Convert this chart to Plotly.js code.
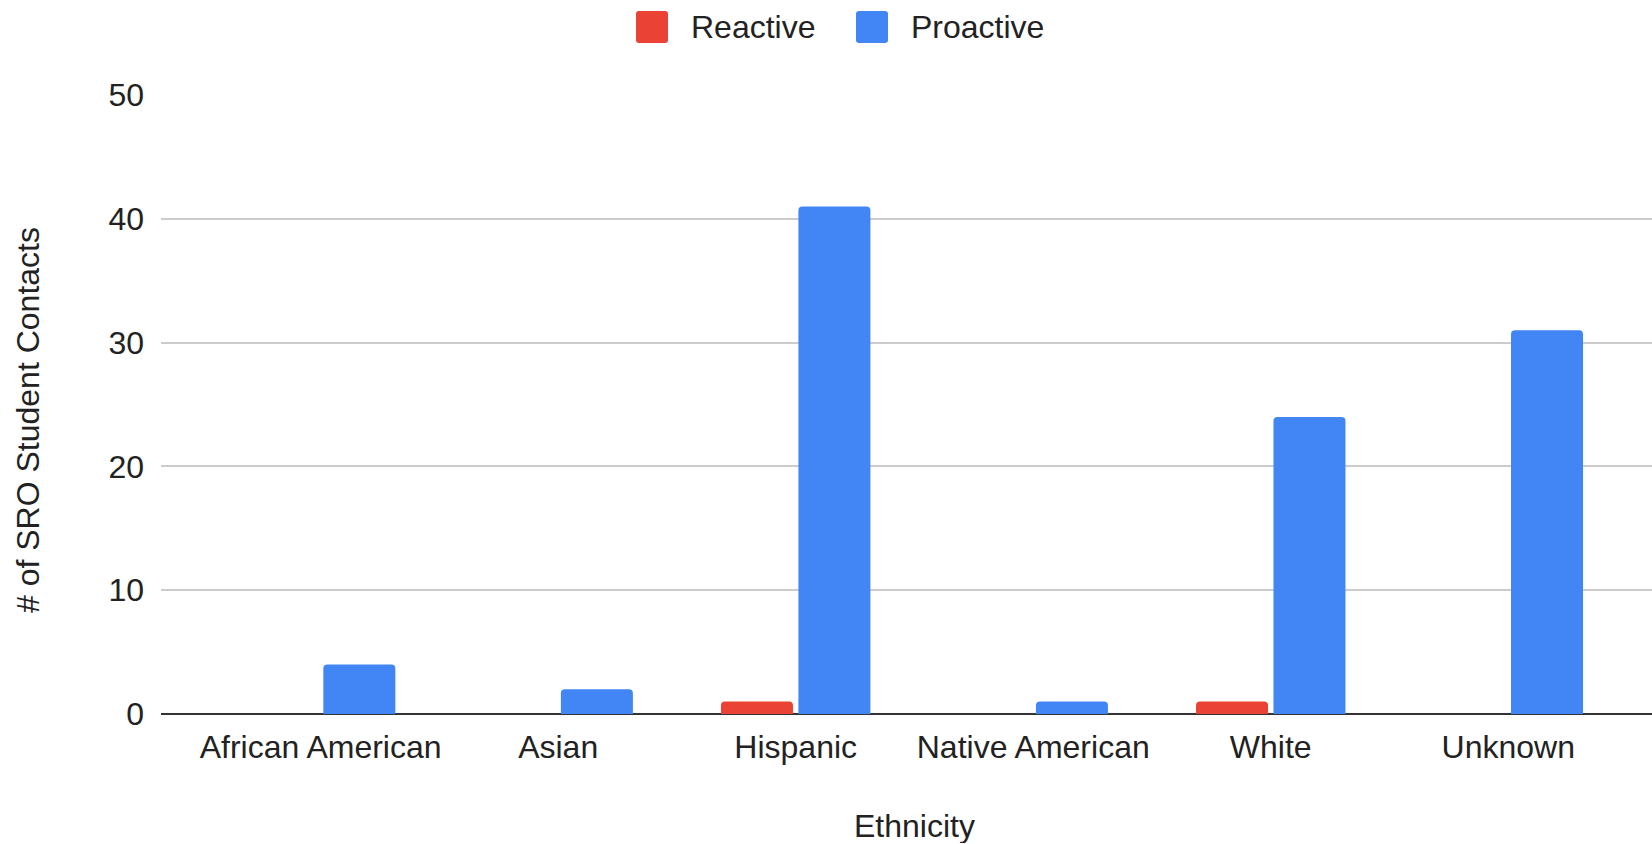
<!DOCTYPE html>
<html>
<head>
<meta charset="utf-8">
<script src="https://cdn.plot.ly/plotly-3.0.1.min.js"></script>
<style>
  html, body { margin: 0; padding: 0; background: #ffffff; }
  #chart { width: 1652px; height: 844px; }
</style>
</head>
<body>
<div id="chart"></div>
<script>
// Student contacts by ethnicity, split by contact type
const ethnicities = ["African American", "Asian", "Hispanic", "Native American", "White", "Unknown"];
const reactive = [0, 0, 1, 0, 1, 0];
const proactive = [4, 2, 41, 1, 24, 31];
const seriesNames = ["Reactive", "Proactive"];
const seriesColors = ["#EA4335", "#4285F4"];
const yTicks = [0, 10, 20, 30, 40, 50];

const FONT = "Liberation Sans, Arial, Helvetica, sans-serif";
const FS = 32;
const TXT = "#222222";

// plot area in pixels
const W = 1652, H = 844;
const L = 161, R = 0, T = 95, B = 130;
const PW = W - L - R, PH = H - T - B;
const px2x = p => (p - L) / PW;
const px2y = p => (H - B - p) / PH;

const traces = [reactive, proactive].map((vals, i) => ({
  type: "bar",
  name: seriesNames[i],
  x: ethnicities,
  y: vals,
  marker: { color: seriesColors[i], cornerradius: 4, line: { width: 0 } },
  showlegend: false,
  hoverinfo: "x+y+name"
}));

// legend: rounded swatch + label per series
const legendSwatches = [
  { x0: 636, x1: 668, textX: 689 },
  { x0: 856, x1: 888, textX: 909 }
];
function roundedRect(x0, x1, y0, y1, r) {
  // path in pixel space converted to paper coordinates
  const pts = [
    ["M", x0 + r, y0], ["L", x1 - r, y0], ["Q", x1, y0, x1, y0 + r],
    ["L", x1, y1 - r], ["Q", x1, y1, x1 - r, y1], ["L", x0 + r, y1],
    ["Q", x0, y1, x0, y1 - r], ["L", x0, y0 + r], ["Q", x0, y0, x0 + r, y0]
  ];
  return pts.map(p => {
    const c = p[0];
    const nums = [];
    for (let k = 1; k < p.length; k += 2) nums.push(px2x(p[k]) + "," + px2y(p[k + 1]));
    return c + nums.join(" ");
  }).join(" ") + " Z";
}
const shapes = legendSwatches.map((s, i) => ({
  type: "path", xref: "paper", yref: "paper",
  path: roundedRect(s.x0, s.x1, 11, 43, 3),
  fillcolor: seriesColors[i], line: { width: 0 }
}));
const annotations = legendSwatches.map((s, i) => ({
  xref: "paper", yref: "paper",
  x: px2x(s.textX), y: px2y(27),
  xanchor: "left", yanchor: "middle",
  text: seriesNames[i], showarrow: false,
  font: { family: FONT, size: FS, color: TXT }
}));

// axis titles
annotations.push({
  xref: "paper", yref: "paper",
  x: px2x(914), y: px2y(826),
  xanchor: "center", yanchor: "middle",
  height: 34, borderpad: 0,
  text: "Ethnicity", showarrow: false,
  font: { family: FONT, size: FS, color: TXT }
});
annotations.push({
  xref: "paper", yref: "paper",
  x: px2x(28), y: px2y(420),
  xanchor: "center", yanchor: "middle",
  textangle: -90,
  text: "# of SRO Student Contacts", showarrow: false,
  font: { family: FONT, size: FS, color: TXT }
});

const layout = {
  width: W, height: H,
  margin: { l: L, r: R, t: T, b: B, pad: 0 },
  paper_bgcolor: "#ffffff",
  plot_bgcolor: "#ffffff",
  barmode: "group",
  bargap: 0.348,
  bargroupgap: 0.07,
  showlegend: false,
  font: { family: FONT, size: FS, color: TXT },
  xaxis: {
    type: "category",
    range: [-0.672, 5.605],
    showgrid: false,
    zeroline: false,
    showline: false,
    ticks: "",
    ticklabelstandoff: 11,
    tickfont: { family: FONT, size: FS, color: TXT },
    fixedrange: true
  },
  yaxis: {
    range: [0, 50],
    tickvals: yTicks,
    ticktext: yTicks.map(String),
    showgrid: true,
    gridcolor: "#cccccc",
    gridwidth: 2,
    zeroline: true,
    zerolinecolor: "#333333",
    zerolinewidth: 2,
    showline: false,
    ticks: "",
    ticklabelstandoff: 16,
    tickfont: { family: FONT, size: FS, color: TXT },
    fixedrange: true
  },
  shapes: shapes,
  annotations: annotations
};

Plotly.newPlot("chart", traces, layout, { displayModeBar: false, staticPlot: true });
</script>
</body>
</html>
